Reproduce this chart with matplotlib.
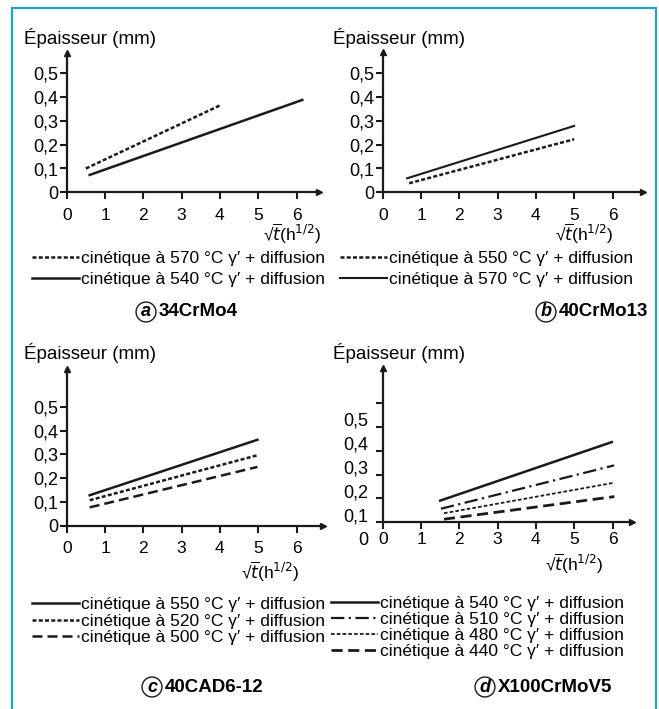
import matplotlib
matplotlib.use("Agg")
import matplotlib.pyplot as plt
from matplotlib.lines import Line2D
from matplotlib.transforms import ScaledTranslation

plt.rcParams['font.family'] = ['Liberation Sans', 'DejaVu Sans']

W, H = 659, 709

# panel a : 34CrMo4
a_x570 = [0.5, 4.0]
a_y570 = [0.10, 0.365]
a_x540 = [0.6, 6.15]
a_y540 = [0.073, 0.388]

# panel b : 40CrMo13
b_x550 = [0.69, 5.0]
b_y550 = [0.038, 0.223]
b_x570 = [0.64, 5.0]
b_y570 = [0.059, 0.279]

# panel c : 40CAD6-12
c_x = [0.6, 4.98]
c_y550 = [0.128, 0.361]
c_y520 = [0.107, 0.296]
c_y500 = [0.077, 0.247]

# panel d : X100CrMoV5 (values read against the tick marks)
d_x540 = [1.5, 5.98]
d_y540 = [0.091, 0.337]
d_x510 = [1.52, 6.04]
d_y510 = [0.057, 0.239]
d_x480 = [1.6, 6.0]
d_y480 = [0.038, 0.165]
d_x440 = [1.6, 6.05]
d_y440 = [0.013, 0.108]

x_ticks = [0, 1, 2, 3, 4, 5, 6]
y_ticks = [0, 0.1, 0.2, 0.3, 0.4, 0.5]
y_labels = ['0', '0,1', '0,2', '0,3', '0,4', '0,5']

FS = 12.5
INK = '#1a1a1a'

fig = plt.figure(figsize=(W / 100, H / 100), dpi=100)


def make_axes(ox, oy, xend, yend, xpad=6, ylab_shift=0):
    ux, uy = 38.3, 238.0
    xlim = (-1.0, 7.0)
    ylim = (-0.15, 0.7)
    left = (ox + xlim[0] * ux) / W
    width = (xlim[1] - xlim[0]) * ux / W
    bottom = 1 - (oy - ylim[0] * uy) / H
    height = (ylim[1] - ylim[0]) * uy / H
    ax = fig.add_axes([left, bottom, width, height])
    ax.set_xlim(xlim)
    ax.set_ylim(ylim)
    ax.patch.set_visible(False)
    for s in ['top', 'right']:
        ax.spines[s].set_visible(False)
    for s in ['left', 'bottom']:
        ax.spines[s].set_position(('data', 0))
        ax.spines[s].set_linewidth(1.6)
        ax.spines[s].set_color(INK)
    ax.spines['bottom'].set_bounds(0, xend)
    ax.spines['left'].set_bounds(0, yend)
    # arrow heads
    ax.plot([xend], [0], marker='>', ms=5, color=INK, clip_on=False)
    ax.plot([0], [yend], marker='^', ms=5, color=INK, clip_on=False)
    ax.set_xticks(x_ticks)
    ax.set_xticklabels([str(v) for v in x_ticks])
    ax.set_yticks(y_ticks)
    ax.set_yticklabels(y_labels)
    ax.tick_params(axis='x', direction='out', length=5, width=1.5, pad=xpad,
                   labelsize=FS, color=INK)
    ax.tick_params(axis='y', direction='out', length=5, width=1.5, pad=1,
                   labelsize=13, color=INK)
    if ylab_shift:
        off = ScaledTranslation(-0.06, -ylab_shift / 100, fig.dpi_scale_trans)
        for lab in ax.get_yticklabels():
            lab.set_transform(lab.get_transform() + off)
    return ax


def legend(ax, x, y, spacing):
    ax.legend(loc='upper left', bbox_to_anchor=(x / W, 1 - y / H),
              bbox_transform=fig.transFigure, frameon=False, fontsize=FS,
              borderpad=0, borderaxespad=0, handlelength=2.7,
              handletextpad=0.15, labelspacing=spacing)


def caption(cx, cy, letter, name):
    fig.text(cx / W, 1 - cy / H, letter, fontsize=13, fontweight='bold',
             style='italic', ha='center', va='center',
             bbox=dict(boxstyle='circle,pad=0.08', fc='white', ec=INK, lw=1))
    fig.text((cx + 13) / W, 1 - cy / H, name, fontsize=13.5, fontweight='bold',
             ha='left', va='center')


def lab(txt, x, y, ha='left', fs=FS):
    fig.text(x / W, 1 - y / H, txt, fontsize=fs, ha=ha, va='center')


LBL = 'cinétique à {} °C γ′ + diffusion'
XLBL = r'√$\overline{t}$(h$^{1/2}$)'

# ---- a
ax = make_axes(66.7, 192.3, 6.6, 0.585)
ax.plot(a_x570, a_y570, color=INK, lw=1.8, dashes=(1.6, 0.9), label=LBL.format(570))
ax.plot(a_x540, a_y540, color=INK, lw=1.8, label=LBL.format(540))
legend(ax, 32, 251, 0.32)
lab('Épaisseur (mm)', 24, 38, fs=13.5)
lab(XLBL, 321, 234, 'right')
caption(146, 312, 'a', '34CrMo4')

# ---- b
ax = make_axes(382.7, 192.3, 6.8, 0.59)
ax.plot(b_x550, b_y550, color=INK, lw=1.8, dashes=(1.6, 0.9), label=LBL.format(550))
ax.plot(b_x570, b_y570, color=INK, lw=1.5, label=LBL.format(570))
legend(ax, 340, 251, 0.32)
lab('Épaisseur (mm)', 333, 38, fs=13.5)
lab(XLBL, 613, 234, 'right')
caption(546, 312, 'b', '40CrMo13')

# ---- c
ax = make_axes(66.7, 525.7, 6.7, 0.66)
ax.plot(c_x, c_y550, color=INK, lw=1.8, label=LBL.format(550))
ax.plot(c_x, c_y520, color=INK, lw=1.8, dashes=(1.6, 0.9), label=LBL.format(520))
ax.plot(c_x, c_y500, color=INK, lw=1.8, dashes=(4, 2), label=LBL.format(500))
legend(ax, 32, 597, 0.08)
lab('Épaisseur (mm)', 24, 353, fs=13.5)
lab(XLBL, 299, 572, 'right')
caption(152, 687, 'c', '40CAD6-12')

# ---- d
ax = make_axes(382.7, 522.3, 6.5, 0.65, xpad=2, ylab_shift=16)
ax.plot(d_x540, d_y540, color=INK, lw=1.8, label=LBL.format(540))
ax.plot(d_x510, d_y510, color=INK, lw=1.6, dashes=(6, 2, 1, 2), label=LBL.format(510))
ax.plot(d_x480, d_y480, color=INK, lw=1.3, dashes=(2, 1.2), label=LBL.format(480))
ax.plot(d_x440, d_y440, color=INK, lw=2.0, dashes=(4, 2), label=LBL.format(440))
legend(ax, 331, 596, 0.05)
lab('Épaisseur (mm)', 333, 353, fs=13.5)
lab(XLBL, 603, 564, 'right')
caption(485, 687, 'd', 'X100CrMoV5')

# blue frame
BLUE = '#0aaae8'
fig.add_artist(Line2D([11.5 / W, 11.5 / W], [0, 1 - 8 / H], color=BLUE, lw=1.5))
fig.add_artist(Line2D([11.5 / W, 656 / W], [1 - 8 / H, 1 - 8 / H], color=BLUE, lw=1.5))
fig.add_artist(Line2D([656 / W, 656 / W], [0, 1 - 8 / H], color=BLUE, lw=1.5))

fig.savefig('out.png', dpi=100)
